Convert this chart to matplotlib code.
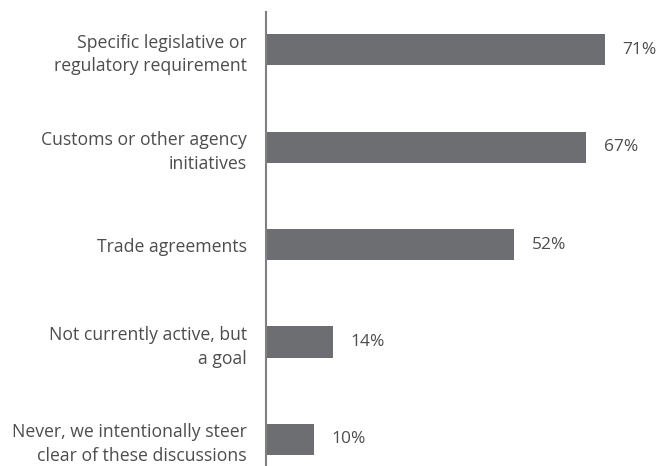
import matplotlib.pyplot as plt

# survey answers, top to bottom
categories = [
    "Specific legislative or\nregulatory requirement",
    "Customs or other agency\ninitiatives",
    "Trade agreements",
    "Not currently active, but\na goal",
    "Never, we intentionally steer\nclear of these discussions",
]
shares = [71, 67, 52, 14, 10]

bar_color = "#6d6e71"
text_color = "#4d4d4f"

plt.rcParams["font.family"] = ["Open Sans", "DejaVu Sans"]

fig = plt.figure(figsize=(6.67, 4.66), dpi=100)
ax = fig.add_axes([0.399, 0.0, 0.601, 0.974])

pos = list(range(len(categories)))
ax.barh(pos, shares, height=0.32, color=bar_color)

for y, v in zip(pos, shares):
    ax.text(v + 3.7, y, f"{v}%", va="center", ha="left",
            fontsize=12.5, color=text_color)

ax.set_yticks(pos)
ax.set_yticklabels(categories, fontsize=12.7, color=text_color,
                   linespacing=1.4)
ax.tick_params(axis="y", length=0, pad=14)
ax.set_xticks([])

ax.set_xlim(0, 84.0)
ax.set_ylim(4.272, -0.385)

for side in ["top", "right", "bottom"]:
    ax.spines[side].set_visible(False)
ax.spines["left"].set_color("#808080")
ax.spines["left"].set_linewidth(1.5)

fig.savefig("out.png", dpi=100)
